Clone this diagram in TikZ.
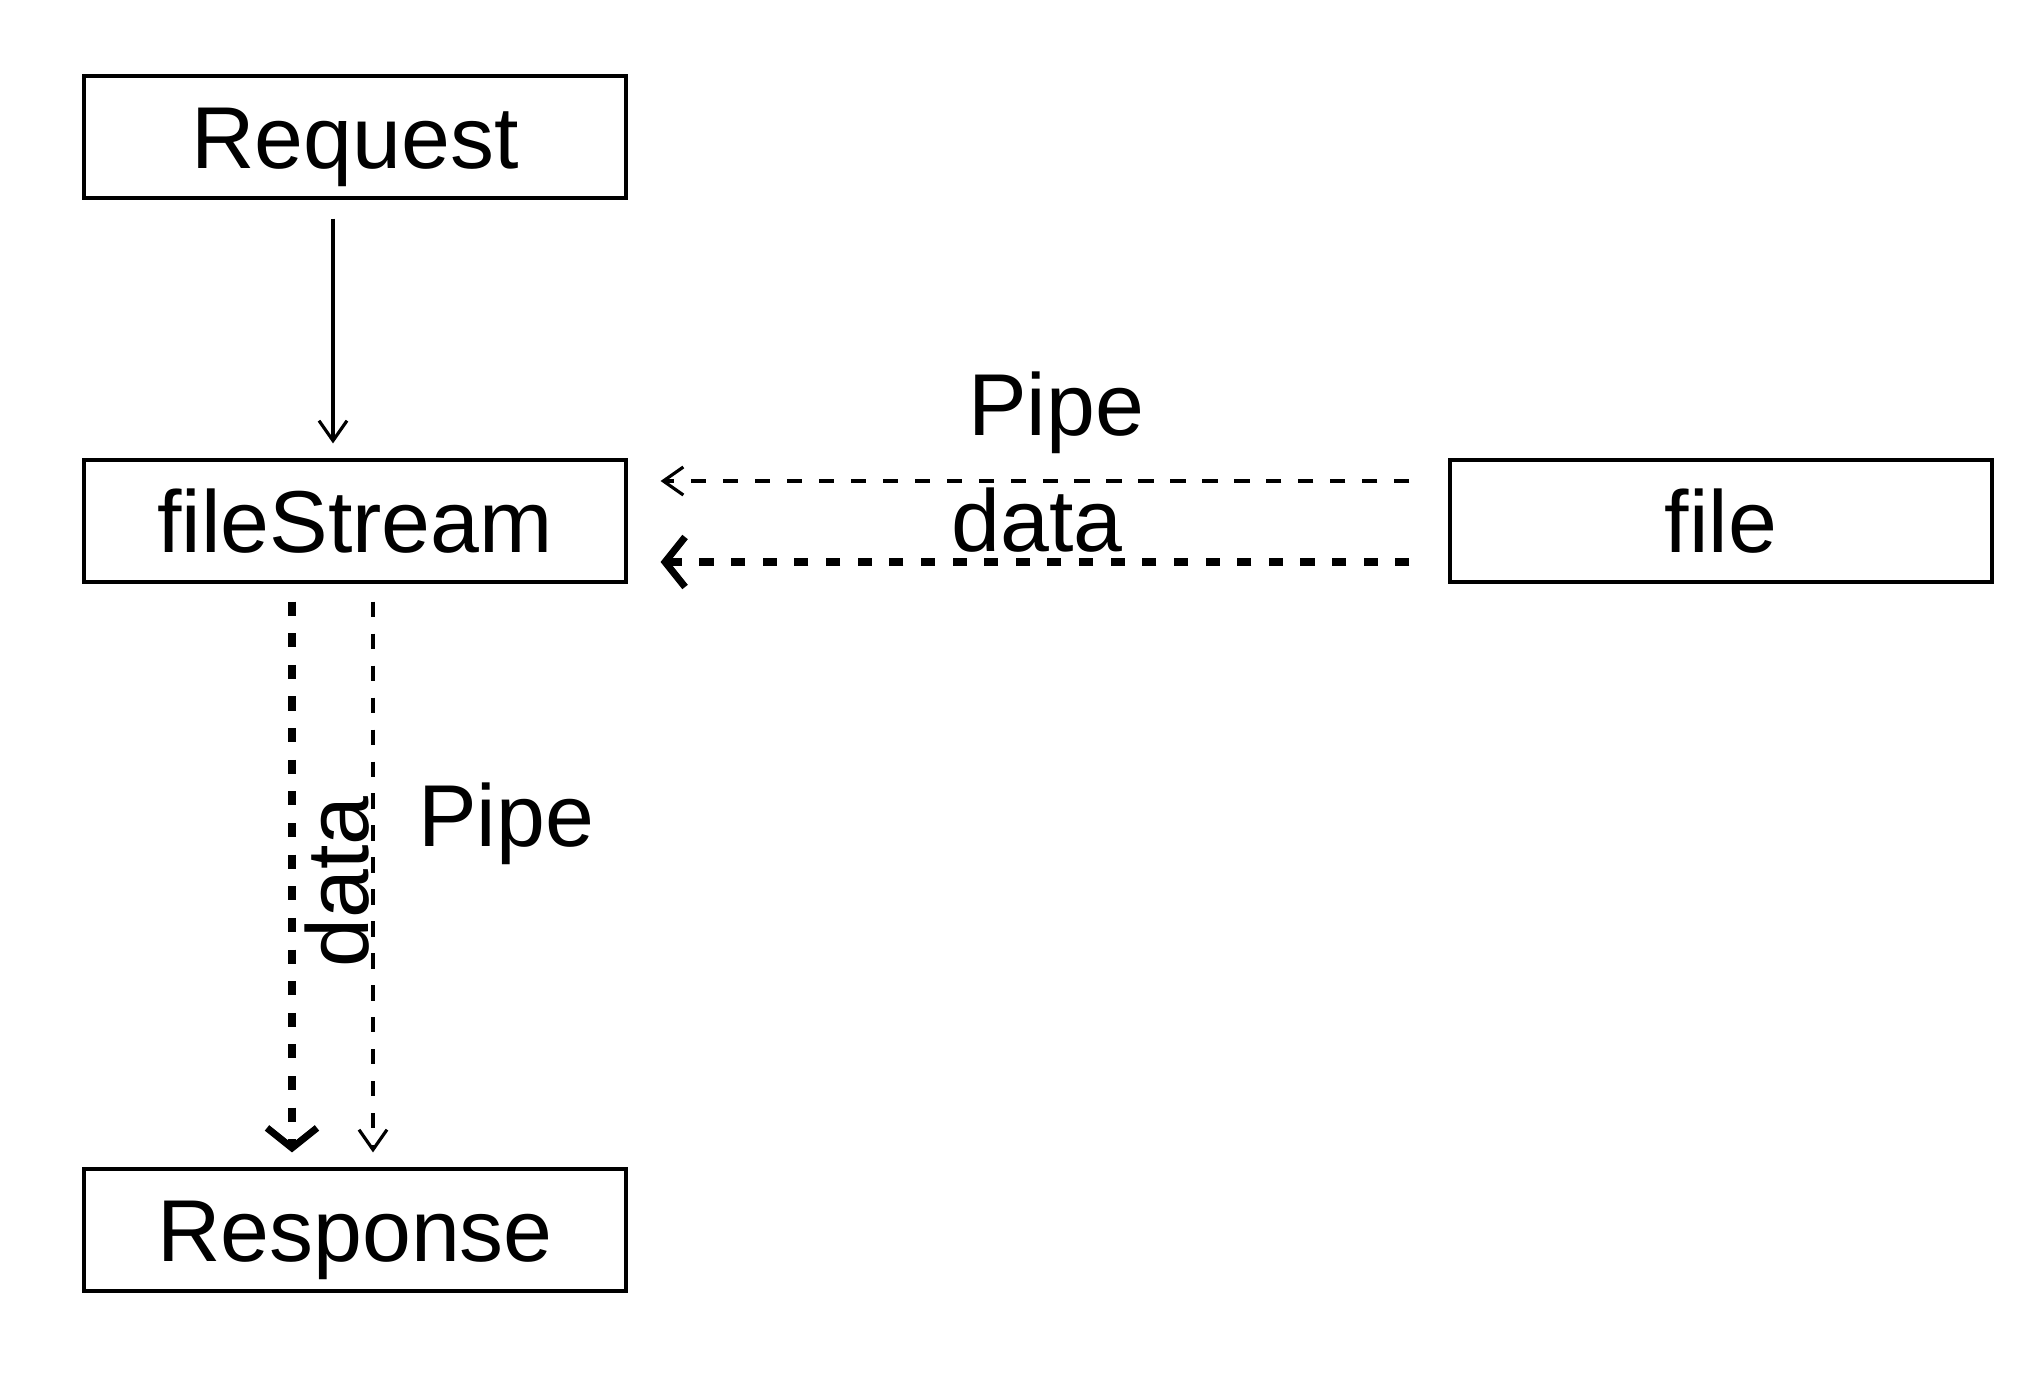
\documentclass[tikz,border=0pt]{standalone}
\usepackage{fontspec}
\setmainfont{Liberation Sans}
\usetikzlibrary{arrows.meta}
\begin{document}
\begin{tikzpicture}[
        box/.style={rectangle, draw, line width=0.9pt, minimum width=5.42cm, minimum height=1.22cm, text height=18pt, text depth=0pt, font=\fontsize{25}{29}\selectfont},
        lbl/.style={font=\fontsize{25}{29}\selectfont},
        arrow/.style={-{Straight Barb[length=2mm, width=2.8mm]}, line width=0.9pt},
        pipe/.style={arrow, dash pattern=on 4.3pt off 4.8pt},
        flow/.style={-{Straight Barb[length=2mm, width=5mm]}, line width=2pt, dash pattern=on 4pt off 5pt}
    ]
        \useasboundingbox (0,0) rectangle (20.34,-13.82);
        \node[box] (request) at (3.55,-1.37) {Request};
        \node[box] (filestream) at (3.55,-5.21) {fileStream};
        \node[box] (file) at (17.21,-5.21) {file};
        \node[box] (response) at (3.55,-12.30) {Response};

        \draw[arrow, shorten <=1.9mm, shorten >=1.5mm] ([xshift=-2.2mm]request.south) -- ([xshift=-2.2mm]filestream.north);

        \draw[pipe, shorten <=3.9mm, shorten >=3.3mm] ([yshift=4mm]file.west) -- ([yshift=4mm]filestream.east);
        \draw[flow, shorten <=3.9mm, shorten >=3.3mm] ([yshift=-4.1mm]file.west) -- ([yshift=-4.1mm]filestream.east);
        \node[lbl] (pipetop) at (10.56,-4.13) {Pipe};
        \node[lbl] (datatop) at (10.37,-5.20) {data};

        \draw[flow, shorten <=1.8mm, shorten >=1.5mm] ([xshift=-6.3mm]filestream.south) -- ([xshift=-6.3mm]response.north);
        \draw[pipe, shorten <=1.8mm, shorten >=1.5mm] ([xshift=1.8mm]filestream.south) -- ([xshift=1.8mm]response.north);
        \node[lbl, rotate=90] (dataside) at (3.37,-8.82) {data};
        \node[lbl] (pipeside) at (5.06,-8.24) {Pipe};
\end{tikzpicture}
\end{document}
